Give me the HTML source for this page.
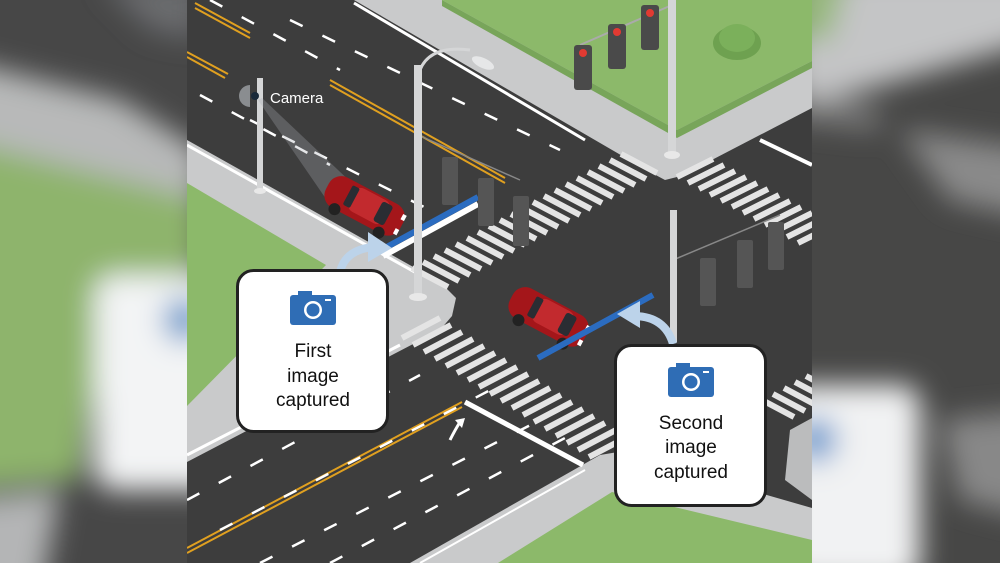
<!DOCTYPE html>
<html><head><meta charset="utf-8"><style>
html,body{margin:0;padding:0;background:#444;width:1000px;height:563px;overflow:hidden;}
svg{display:block;position:absolute;left:0;top:0}
text{font-family:"Liberation Sans",sans-serif}
</style></head><body>
<svg width="1000" height="563" viewBox="0 0 1000 563" xmlns="http://www.w3.org/2000/svg">
<defs>
<filter id="bl" x="-50%" y="-50%" width="200%" height="200%"><feGaussianBlur stdDeviation="14"/></filter>
<clipPath id="lc"><rect x="0" y="0" width="187" height="563"/></clipPath>
<clipPath id="rc"><rect x="812" y="0" width="188" height="563"/></clipPath>
<clipPath id="mc"><rect x="187" y="0" width="625" height="563"/></clipPath>
</defs>
<g clip-path="url(#lc)">
<rect x="0" y="0" width="187" height="563" fill="#474747"/>
<g filter="url(#bl)">
<polygon points="-40,60 120,100 200,150 200,200 -40,140" fill="#b8b9b9"/>
<polygon points="-40,140 200,200 200,270 110,290 80,480 -40,490" fill="#8eb46c"/>
<rect x="95" y="275" width="130" height="215" rx="20" fill="#f3f4f5"/>
<circle cx="185" cy="320" r="22" fill="#6e9ccc"/>
<polygon points="-40,500 60,490 40,600 -40,600" fill="#b4b5b6"/>
<polygon points="100,-20 200,-20 200,40 150,30" fill="#6a6c6e"/>
</g></g>
<g clip-path="url(#rc)">
<rect x="812" y="0" width="188" height="563" fill="#474746"/>
<g filter="url(#bl)">
<polygon points="790,-30 1040,-30 1040,40 900,80 790,110" fill="#c4c5c6"/>
<polygon points="790,-30 850,-30 830,40 790,40" fill="#96b87c"/>
<polygon points="900,130 1040,150 1040,220 950,200" fill="#8a8a8a"/>
<polygon points="790,90 880,110 880,130 790,120" fill="#7e7e7e"/>
<rect x="780" y="385" width="140" height="200" rx="20" fill="#f1f2f3"/>
<circle cx="815" cy="440" r="22" fill="#6b9ace"/>
<polygon points="940,420 1040,410 1040,520 960,500" fill="#888"/>
</g></g>
<g clip-path="url(#mc)">
<rect x="187" y="0" width="625" height="563" fill="#3d3d3d"/>
<polygon points="354,0 812,0 812,108 681,176 665,180 650,172" fill="#c9cacb"/>
<polygon points="442,0 812,0 812,61 677,130" fill="#8cb96a"/>
<polygon points="442,0 677,130 812,61 812,68 677,138 442,6" fill="#78a55a"/>
<polygon points="187,140 440,282 456,298 452,316 440,330 187,462" fill="#c9cacb"/>
<polygon points="187,183 326,265 187,406" fill="#8cb96a"/>
<polygon points="410,563 600,455 618,452 812,508 812,563" fill="#c9cacb"/>
<polygon points="498,563 612,492 812,540 812,563" fill="#8cb96a"/>
<polygon points="790,430 812,418 812,500 785,480" fill="#c9cacb" opacity="0.9"/>
<line x1="354" y1="3" x2="585" y2="140" stroke="#fff" stroke-width="3"/>
<line x1="187" y1="145" x2="420" y2="275" stroke="#fff" stroke-width="3"/>
<line x1="187" y1="455" x2="400" y2="345" stroke="#fff" stroke-width="3"/>
<line x1="420" y1="563" x2="585" y2="470" stroke="#fff" stroke-width="2"/>
<line x1="760" y1="140" x2="812" y2="165" stroke="#fff" stroke-width="4"/>
<line x1="465" y1="402" x2="583" y2="465" stroke="#fff" stroke-width="5"/>
<g stroke="#e0a020" stroke-width="2" fill="none">
<line x1="195" y1="3" x2="250" y2="33"/><line x1="195" y1="8" x2="250" y2="38"/>
<line x1="187" y1="52" x2="228" y2="74"/><line x1="187" y1="57" x2="225" y2="78"/>
<line x1="330" y1="80" x2="505" y2="178"/><line x1="330" y1="85" x2="505" y2="183"/>
<line x1="187" y1="548" x2="462" y2="402"/><line x1="187" y1="553" x2="462" y2="407"/>
</g>
<g stroke="#fff" stroke-width="2.5" stroke-dasharray="14 22" fill="none">
<line x1="210" y1="0" x2="340" y2="70"/>
<line x1="290" y1="20" x2="560" y2="150"/>
<line x1="200" y1="95" x2="330" y2="165"/>
<line x1="250" y1="120" x2="440" y2="215"/>
<line x1="187" y1="500" x2="420" y2="375"/>
<line x1="220" y1="530" x2="500" y2="385"/>
<line x1="260" y1="563" x2="560" y2="410"/>
<line x1="330" y1="563" x2="580" y2="430"/>
</g>
<g stroke="#e4e4e4" stroke-width="6" fill="none">
<path d="M412 268 l36 19 m-25 -25 l36 19 m-25 -25 l36 19 m-25 -25 l36 19 m-25 -25 l36 19 m-25 -25 l36 19 m-25 -25 l36 19 m-25 -25 l36 19 m-25 -25 l36 19 m-25 -25 l36 19 m-25 -25 l36 19 m-25 -25 l36 19 m-25 -25 l36 19 m-25 -25 l36 19 m-25 -25 l36 19 m-25 -25 l36 19 m-25 -25 l36 19 m-25 -25 l36 19 m-25 -25 l36 19 m-25 -25 l36 19"/>
<path d="M677 177 l36 -18 m-25 24 l36 -18 m-25 24 l36 -18 m-25 24 l36 -18 m-25 24 l36 -18 m-25 24 l36 -18 m-25 24 l36 -18 m-25 24 l36 -18 m-25 24 l36 -18 m-25 24 l36 -18 m-25 24 l36 -18 m-25 24 l36 -18"/>
<path d="M402 338 l38 -20 m-27 27 l38 -20 m-27 27 l38 -20 m-27 27 l38 -20 m-27 27 l38 -20 m-27 27 l38 -20 m-27 27 l38 -20 m-27 27 l38 -20 m-27 27 l38 -20 m-27 27 l38 -20 m-27 27 l38 -20 m-27 27 l38 -20 m-27 27 l38 -20 m-27 27 l38 -20 m-27 27 l38 -20 m-27 27 l38 -20 m-27 27 l38 -20 m-27 27 l38 -20"/>
<path d="M762 400 l32 17 m-21 -23 l32 17 m-21 -23 l32 17 m-21 -23 l32 17 m-21 -23 l32 17 m-21 -23 l32 17"/>
</g>
<path d="M450 440 q5 -10 10 -18" stroke="#fff" stroke-width="3" fill="none"/>
<polygon points="455,420 465,418 462,428" fill="#fff"/>
<line x1="580" y1="45" x2="672" y2="5" stroke="#aaa" stroke-width="2"/>
<g fill="#4a4a4a">
<rect x="574" y="45" width="18" height="45" rx="3"/>
<rect x="608" y="24" width="18" height="45" rx="3"/>
<rect x="641" y="5" width="18" height="45" rx="3"/>
</g>
<g fill="#e23a32"><circle cx="583" cy="53" r="4"/><circle cx="617" cy="32" r="4"/><circle cx="650" cy="13" r="4"/></g>
<rect x="668" y="0" width="8" height="155" fill="#d5d6d7"/>
<ellipse cx="672" cy="155" rx="8" ry="4" fill="#e8e8e8"/>
<ellipse cx="737" cy="43" rx="24" ry="17" fill="#6ea150"/>
<ellipse cx="737" cy="38" rx="18" ry="14" fill="#7bb05b"/>
<rect x="257" y="78" width="6" height="112" fill="#d5d6d7"/>
<ellipse cx="260" cy="191" rx="6" ry="3" fill="#e8e8e8"/>
<path d="M250 85 a10 10 0 0 0 0 22 z" fill="#8a8d90"/>
<circle cx="255" cy="96" r="4" fill="#1a2a3a"/>
<polygon points="258,100 262,98 375,205 335,212" fill="#a9adb3" opacity="0.3"/>
<text x="270" y="103" font-size="15" fill="#fff">Camera</text>
<g transform="translate(365,205) rotate(28)">
<rect x="-42" y="-16" width="84" height="34" rx="14" fill="#a4161a"/>
<rect x="-16" y="-14" width="40" height="26" rx="8" fill="#c22a2e"/>
<rect x="14" y="-12" width="12" height="22" rx="3" fill="#2a2d33"/>
<rect x="-20" y="-12" width="8" height="22" rx="2" fill="#2a2d33"/>
<circle cx="-25" cy="18" r="6" fill="#222"/><circle cx="25" cy="18" r="6" fill="#222"/>
<rect x="38" y="-10" width="4" height="6" fill="#fff"/><rect x="38" y="6" width="4" height="6" fill="#fff"/>
</g>
<g transform="translate(549,316) rotate(28)">
<rect x="-42" y="-16" width="84" height="34" rx="14" fill="#a4161a"/>
<rect x="-16" y="-14" width="40" height="26" rx="8" fill="#c22a2e"/>
<rect x="14" y="-12" width="12" height="22" rx="3" fill="#2a2d33"/>
<rect x="-20" y="-12" width="8" height="22" rx="2" fill="#2a2d33"/>
<circle cx="-25" cy="18" r="6" fill="#222"/><circle cx="25" cy="18" r="6" fill="#222"/>
<rect x="38" y="-10" width="4" height="6" fill="#fff"/><rect x="38" y="6" width="4" height="6" fill="#fff"/>
</g>
<line x1="383" y1="256" x2="478" y2="204" stroke="#fff" stroke-width="6"/>
<line x1="383" y1="249" x2="478" y2="197" stroke="#2b6cc0" stroke-width="6"/>
<line x1="538" y1="358" x2="653" y2="295" stroke="#2b6cc0" stroke-width="6"/>
<line x1="418" y1="135" x2="520" y2="180" stroke="#888" stroke-width="1.5"/>
<g fill="#555">
<rect x="442" y="157" width="16" height="48" rx="2"/>
<rect x="478" y="178" width="16" height="48" rx="2"/>
<rect x="513" y="196" width="16" height="50" rx="2"/>
<rect x="700" y="258" width="16" height="48" rx="2"/>
<rect x="737" y="240" width="16" height="48" rx="2"/>
<rect x="768" y="222" width="16" height="48" rx="2"/>
</g>
<line x1="673" y1="260" x2="780" y2="215" stroke="#888" stroke-width="1.5"/>
<rect x="670" y="210" width="7" height="132" fill="#d5d6d7"/>
<path d="M420 70 q10 -25 50 -20" stroke="#d5d6d7" stroke-width="3" fill="none"/>
<ellipse cx="483" cy="63" rx="12" ry="5" fill="#e6e7e8" transform="rotate(25 483 63)"/>
<rect x="414" y="65" width="8" height="232" fill="#d5d6d7"/>
<ellipse cx="418" cy="297" rx="9" ry="4" fill="#e8e8e8"/>
<path d="M340 272 q5 -22 33 -25" stroke="#bcd3ea" stroke-width="8" fill="none"/>
<polygon points="368,232 392,248 368,262" fill="#bcd3ea"/>
<path d="M673 344 q-8 -28 -40 -28" stroke="#bcd3ea" stroke-width="8" fill="none"/>
<polygon points="640,301 617,314 640,328" fill="#bcd3ea"/>
<rect x="237.5" y="270.5" width="150" height="161" rx="16" fill="#fff" stroke="#222" stroke-width="3"/>
<g transform="translate(290,290)">
<rect x="0" y="5" width="46" height="30" rx="3" fill="#2f6db5"/>
<rect x="8" y="1" width="14" height="6" fill="#2f6db5"/>
<circle cx="23" cy="20" r="9" fill="#fff"/><circle cx="23" cy="20" r="6.5" fill="#2f6db5"/>
<rect x="35" y="9" width="6" height="2" fill="#fff"/>
</g>
<text x="313" y="357" font-size="19" fill="#111" text-anchor="middle">First</text>
<text x="313" y="382" font-size="19" fill="#111" text-anchor="middle">image</text>
<text x="313" y="406" font-size="19" fill="#111" text-anchor="middle">captured</text>
<rect x="615.5" y="345.5" width="150" height="160" rx="16" fill="#fff" stroke="#222" stroke-width="3"/>
<g transform="translate(668,362)">
<rect x="0" y="5" width="46" height="30" rx="3" fill="#2f6db5"/>
<rect x="8" y="1" width="14" height="6" fill="#2f6db5"/>
<circle cx="23" cy="20" r="9" fill="#fff"/><circle cx="23" cy="20" r="6.5" fill="#2f6db5"/>
<rect x="35" y="9" width="6" height="2" fill="#fff"/>
</g>
<text x="691" y="429" font-size="19" fill="#111" text-anchor="middle">Second</text>
<text x="691" y="453" font-size="19" fill="#111" text-anchor="middle">image</text>
<text x="691" y="478" font-size="19" fill="#111" text-anchor="middle">captured</text>
</g>
</svg>
</body></html>
